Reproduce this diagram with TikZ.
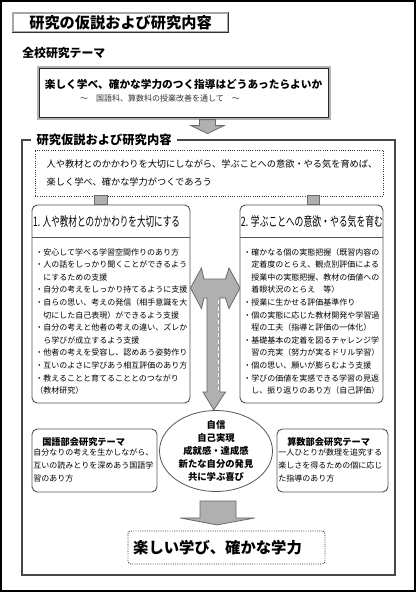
\documentclass[tikz,border=0pt]{standalone}
\usepackage{fontspec}
\usepackage{graphicx}
\newfontfamily\jp{Noto Sans CJK JP}
\usetikzlibrary{shapes.geometric,calc}
\definecolor{arrowfill}{HTML}{B0B0B0}
\definecolor{arrowedge}{HTML}{6A6A6A}
\definecolor{framecol}{HTML}{484848}
\definecolor{boxedge}{HTML}{555555}
\definecolor{dotcol}{HTML}{333333}
\tikzset{
  jpnode/.style={font=\jp, inner sep=0pt, text=black},
  blockarrow/.style={fill=arrowfill, draw=arrowedge, line width=0.6pt, line join=miter},
  roundbox/.style={draw=boxedge, line width=0.7pt, rounded corners=4pt, fill=white},
  dotbox/.style={draw=dotcol, densely dotted, line width=0.7pt, fill=white},
  itemtext/.style={jpnode, anchor=north west, align=left, font=\jp\fontsize{6}{9.45}\selectfont},
  subtitle/.style={jpnode, anchor=west, font=\jp\bfseries\fontsize{6.9}{8}\selectfont},
  subbody/.style={jpnode, anchor=north west, align=left, font=\jp\fontsize{6}{9.75}\selectfont},
  headtext/.style={jpnode, font=\jp\fontsize{9.75}{10}\selectfont},
}
\begin{document}
\begin{tikzpicture}[x=0.75pt,y=-0.75pt]
\useasboundingbox (0,0) rectangle (416,592);
% outer border
\draw[line width=1.4pt] (1,1) rectangle (415,591);

% title
\node[draw=gray!70, line width=0.8pt, fill=white, minimum width=161.25pt, minimum height=14.25pt,
      jpnode, font=\jp\bfseries\fontsize{11.4}{12}\selectfont] (title) at (120.5,22.5) {研究の仮説および研究内容};
\draw[gray!40!black, line width=0.8pt] (title.north east) -- (title.south east) -- (title.south west);

\node[jpnode, anchor=west, font=\jp\bfseries\fontsize{8.9}{10}\selectfont] (zenko) at (22,53) {全校研究テーマ};

% school theme
\node[draw=gray!60, line width=0.9pt, fill=white, minimum width=219pt, minimum height=39pt] (theme) at (184,93) {};
\draw[gray!30!black, line width=0.5pt] ($(theme.north west)+(2,2)$) rectangle ($(theme.south east)+(-2,-2)$);
\node[jpnode, font=\jp\bfseries\fontsize{8}{9}\selectfont] (themeA) at (183.5,84) {楽しく学べ、確かな学力のつく指導はどうあったらよいか};
\node[jpnode, font=\jp\fontsize{6}{7}\selectfont, text=black!80] (themeB) at (160,98) {～　国語科、算数科の授業改善を通して　～};

% frame
\node[draw=framecol, line width=1.3pt, minimum width=279.75pt, minimum height=326.25pt] (frame) at (208.5,357.5) {};
\node[jpnode, fill=white, inner xsep=4pt, inner ysep=1pt, anchor=west,
      font=\jp\bfseries\fontsize{9.2}{10}\selectfont] (framelabel) at (31,140) {研究仮説および研究内容};

% arrow theme -> frame
\draw[blockarrow] ($(theme.south)+(23.5,0)$) -- +(8,0) -- +(8,6) -- +(16.5,6) -- +(0,14) -- +(-16.5,6) -- +(-8,6) -- +(-8,0) -- cycle;

% hypothesis
\node[dotbox, minimum width=261pt, minimum height=34.5pt] (hyp) at (209,173) {};
\node[jpnode, align=left, font=\jp\fontsize{6.9}{13.5}\selectfont] (hyptext) at (212,173)
  {人や教材とのかかわりを大切にしながら、学ぶことへの意欲・やる気を育めば、\\楽しく学べ、確かな学力がつくであろう};

% boxes
\node[roundbox, minimum width=118.5pt, minimum height=148.5pt] (box1) at (111,304) {};
\node[roundbox, minimum width=107.25pt, minimum height=148.5pt] (box2) at (311.5,304) {};
\draw[boxedge, line width=0.6pt] ($(box1.north west)+(0,33)$) -- ($(box1.north east)+(0,33)$);
\draw[boxedge, line width=0.6pt] ($(box2.north west)+(0,33)$) -- ($(box2.north east)+(0,33)$);

% connectors hyp -> boxes
\draw[blockarrow] ($(box1.north west)+(63,-9)$) rectangle ($(box1.north west)+(76,0)$);
\draw[blockarrow] ($(box2.north west)+(68,-9)$) rectangle ($(box2.north west)+(80,0)$);

\node[headtext] (head1) at (106.5,222) {\scalebox{0.66}[1]{1. 人や教材とのかかわりを大切にする}};
\node[headtext] (head2) at (312,222) {\scalebox{0.68}[1]{2. 学ぶことへの意欲・やる気を育む}};

\node[itemtext] (items1) at (35,248) {・安心して学べる学習空間作りのあり方\\・人の話をしっかり聞くことができるよう\\　にするための支援\\・自分の考えをしっかり持てるように支援\\・自らの思い、考えの発信（相手意識を大\\　切にした自己表現）ができるよう支援\\・自分の考えと他者の考えの違い、ズレか\\　ら学びが成立するよう支援\\・他者の考えを受容し、認めあう姿勢作り\\・互いのよさに学びあう相互評価のあり方\\・教えることと育てることとのつながり\\（教材研究）};

\node[itemtext] (items2) at (243,248) {・確かなる個の実態把握（既習内容の\\　定着度のとらえ、観点別評価による\\　授業中の実態把握、教材の価値への\\　着眼状況のとらえ　等）\\・授業に生かせる評価基準作り\\・個の実態に応じた教材開発や学習過\\　程の工夫（指導と評価の一体化）\\・基礎基本の定着を図るチャレンジ学\\　習の充実（努力が実るドリル学習）\\・個の思い、願いが膨らむよう支援\\・学びの価値を実感できる学習の見返\\　し、振り返りのあり方（自己評価）};

% goal ellipse
\node[ellipse, draw=boxedge, line width=0.6pt, fill=white, minimum width=84.75pt, minimum height=60.75pt, inner sep=0pt] (goal) at (216,451) {};
\node[jpnode, align=center, font=\jp\bfseries\fontsize{7}{9.75}\selectfont] (goaltext) at (216,451) {自信\\自己実現\\成就感・達成感\\新たな自分の発見\\共に学ぶ喜び};

% double arrow
\draw[blockarrow] ($(box1.east)+(0,-16)$) coordinate (dtip) -- +(11,-20) -- +(13.5,-9) -- +(35,-9) -- +(38.5,-20) -- +(49.5,0) -- +(38.5,20.5) -- +(35,10) -- +(29.5,10) -- +(29.5,104) -- +(35,104) -- +(23.3,122) -- +(12.5,104) -- +(16.5,104) -- +(16.5,10) -- +(13.5,10) -- +(11,20.5) -- cycle;
\draw[white, densely dashed, line width=0.4pt] ($(dtip)+(27.5,12)$) -- ($(dtip)+(27.5,102)$);

% sub themes
\node[roundbox, minimum width=93.75pt, minimum height=47.25pt] (kokugo) at (94.5,460.5) {};
\node[subtitle] (kokugoT) at (42,442) {国語部会研究テーマ};
\node[subbody] (kokugoB) at (33,448) {自分なりの考えを生かしながら、\\互いの読みとりを深めあう国語学\\習のあり方};

\node[roundbox, minimum width=83.25pt, minimum height=47.25pt] (sansu) at (332.5,460.5) {};
\node[subtitle] (sansuT) at (287,442) {算数部会研究テーマ};
\node[subbody] (sansuB) at (278,448) {一人ひとりが数理を追究する\\楽しさを得るための個に応じ\\た指導のあり方};

% result
\node[dotbox, rounded corners=2pt, minimum width=147.75pt, minimum height=24.75pt] (result) at (226.5,547.5) {};
\node[jpnode, font=\jp\bfseries\fontsize{11.5}{12}\selectfont] (resultT) at (217.5,547.5) {楽しい学び、確かな学力};

% arrow goal -> result
\draw[blockarrow] ($(goal.south)+(-16,9)$) -- +(36,0) -- +(36,17) -- +(55,17) -- +(17,24) -- +(-20,17) -- +(0,17) -- cycle;
\end{tikzpicture}
\end{document}
